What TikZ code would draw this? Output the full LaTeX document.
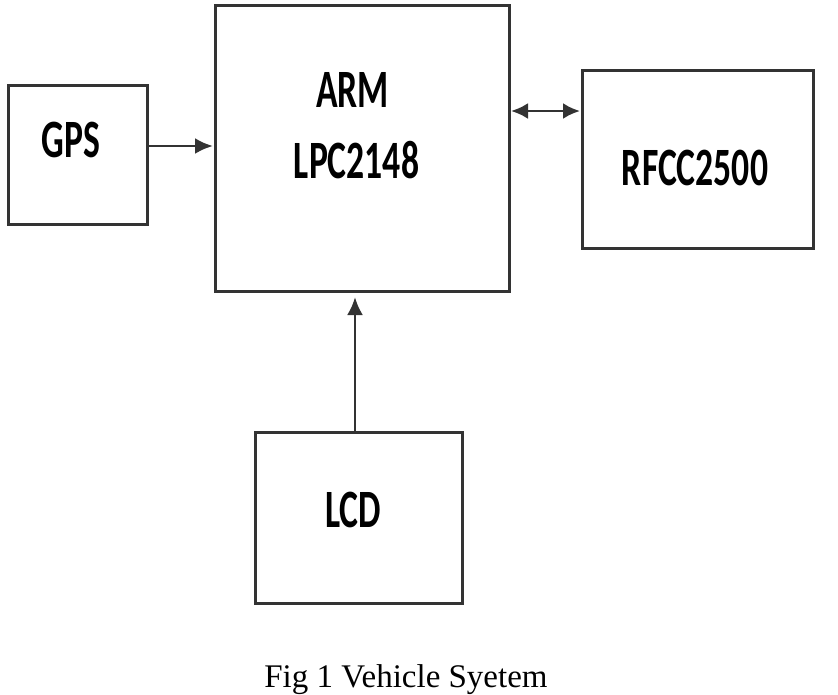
\documentclass[tikz,border=0pt]{standalone}
\usepackage{fontspec}
\setmainfont{Liberation Serif}
\newfontfamily\lblfont{Carlito}
\usetikzlibrary{arrows.meta}
\definecolor{ink}{HTML}{333333}
\tikzset{
  blk/.style={draw=ink, line width=3pt, minimum width=#1, inner sep=0pt, fill=white},
  lbl/.style={anchor=base, inner sep=0pt, text=black},
  conn/.style={draw=ink, line width=2.8pt, -{Latex[length=18pt,width=16pt]}},
  biconn/.style={draw=ink, line width=2.8pt, {Latex[length=17pt,width=16pt]}-{Latex[length=17pt,width=16pt]}},
}
\newcommand{\blab}[1]{\scalebox{0.66}[1]{\lblfont\bfseries\fontsize{54}{60}\selectfont #1}}
\begin{document}
\begin{tikzpicture}[x=1pt,y=-1pt]
\useasboundingbox (0,0) rectangle (838,694);
\node[blk=139pt, minimum height=139pt] (gps) at (77.5,154.5) {};
\node[blk=294pt, minimum height=286pt] (arm) at (362,148) {};
\node[blk=231pt, minimum height=178pt] (rf) at (697.5,159) {};
\node[blk=207pt, minimum height=171pt] (lcd) at (359,517.5) {};
\node[lbl] (gpst) at (71,157) {\blab{GPS}};
\node[lbl] (armt) at (352.5,107) {\blab{ARM}};
\node[lbl] (lpct) at (356.5,178) {\blab{LPC2148}};
\node[lbl] (rft) at (695,185) {\blab{RFCC2500}};
\node[lbl] (lcdt) at (353,527) {\blab{LCD}};
\coordinate (g1) at (147,146);
\coordinate (g2) at (213,146);
\draw[conn] (g1) -- (g2);
\coordinate (b1) at (511,111);
\coordinate (b2) at (580,111);
\draw[biconn] (b1) -- (b2);
\coordinate (l1) at (355,432);
\coordinate (l2) at (355,297);
\draw[conn] (l1) -- (l2);
\node[anchor=base, inner sep=0pt, font=\fontsize{33}{36}\selectfont] (cap) at (406,687) {Fig 1 Vehicle Syetem};
\end{tikzpicture}
\end{document}
